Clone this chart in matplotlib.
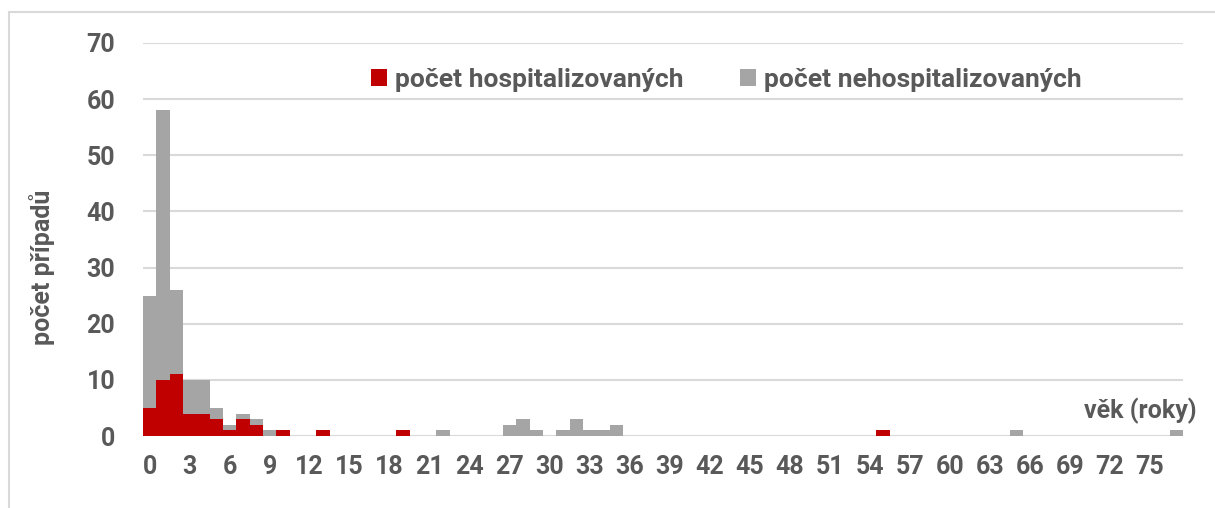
import numpy as np
import matplotlib
matplotlib.use("Agg")
import matplotlib.pyplot as plt
from matplotlib.patches import Patch, Rectangle

# věk 0..77
vek = np.arange(78)

hosp = np.zeros(78)
nehosp = np.zeros(78)

hosp_vals = {0: 5, 1: 10, 2: 11, 3: 4, 4: 4, 5: 3, 6: 1, 7: 3, 8: 2,
             10: 1, 13: 1, 19: 1, 55: 1}
nehosp_vals = {0: 20, 1: 48, 2: 15, 3: 6, 4: 6, 5: 2, 6: 1, 7: 1, 8: 1,
               9: 1, 22: 1, 27: 2, 28: 3, 29: 1, 31: 1, 32: 3, 33: 1,
               34: 1, 35: 2, 65: 1, 77: 1}
for k, v in hosp_vals.items():
    hosp[k] = v
for k, v in nehosp_vals.items():
    nehosp[k] = v

x_labels = list(range(0, 78, 3))

plt.rcParams['font.family'] = ['Roboto', 'DejaVu Sans']
txt_color = "#595959"
fs = 18

fig = plt.figure(figsize=(12.15, 5.08), dpi=100)
ax = fig.add_axes([0.1177, 0.1417, 0.856, 0.7737])

# ramecek grafu
fig.patches.append(Rectangle((9 / 1215, -0.1), 1.2, 1.1 - 12 / 508,
                             transform=fig.transFigure, fill=False,
                             edgecolor="#d9d9d9", linewidth=1.5))

ax.bar(vek, hosp, width=1.0, color="#C00000", label="počet hospitalizovaných", zorder=3)
ax.bar(vek, nehosp, width=1.0, bottom=hosp, color="#A5A5A5",
       label="počet nehospitalizovaných", zorder=3)

ax.set_xlim(-0.5, 77.5)
ax.set_ylim(0, 70)
ax.set_yticks(range(0, 71, 10))
ax.set_xticks(x_labels)
ax.set_xticklabels([str(v) for v in x_labels])

ax.grid(True, axis='y', color="#d9d9d9", linewidth=1.5, zorder=0)
ax.set_axisbelow(True)
for s in ax.spines.values():
    s.set_visible(False)
ax.tick_params(length=0, labelsize=fs, labelcolor=txt_color, pad=14)
ax.tick_params(axis='y', pad=20)
for lab in ax.get_xticklabels() + ax.get_yticklabels():
    lab.set_fontweight("bold")

ax.set_ylabel("počet případů", fontsize=fs, fontweight="bold", color=txt_color)
ax.yaxis.set_label_coords(-0.085, 0.43)
ax.text(1.013, 0.065, "věk (roky)", transform=ax.transAxes, ha="right", va="center",
        fontsize=fs, fontweight="bold", color=txt_color)

handles = [Patch(facecolor="#C00000"), Patch(facecolor="#A5A5A5")]
leg = ax.legend(handles, ["počet hospitalizovaných", "počet nehospitalizovaných"],
                ncol=2, loc="center left", bbox_to_anchor=(0.219, 0.906), frameon=False,
                handlelength=0.6, handleheight=0.6, handletextpad=0.3,
                columnspacing=2.15, borderaxespad=0, borderpad=0,
                prop={"size": 19, "weight": "bold"})
for t in leg.get_texts():
    t.set_color(txt_color)

fig.savefig("out.png", dpi=100)
